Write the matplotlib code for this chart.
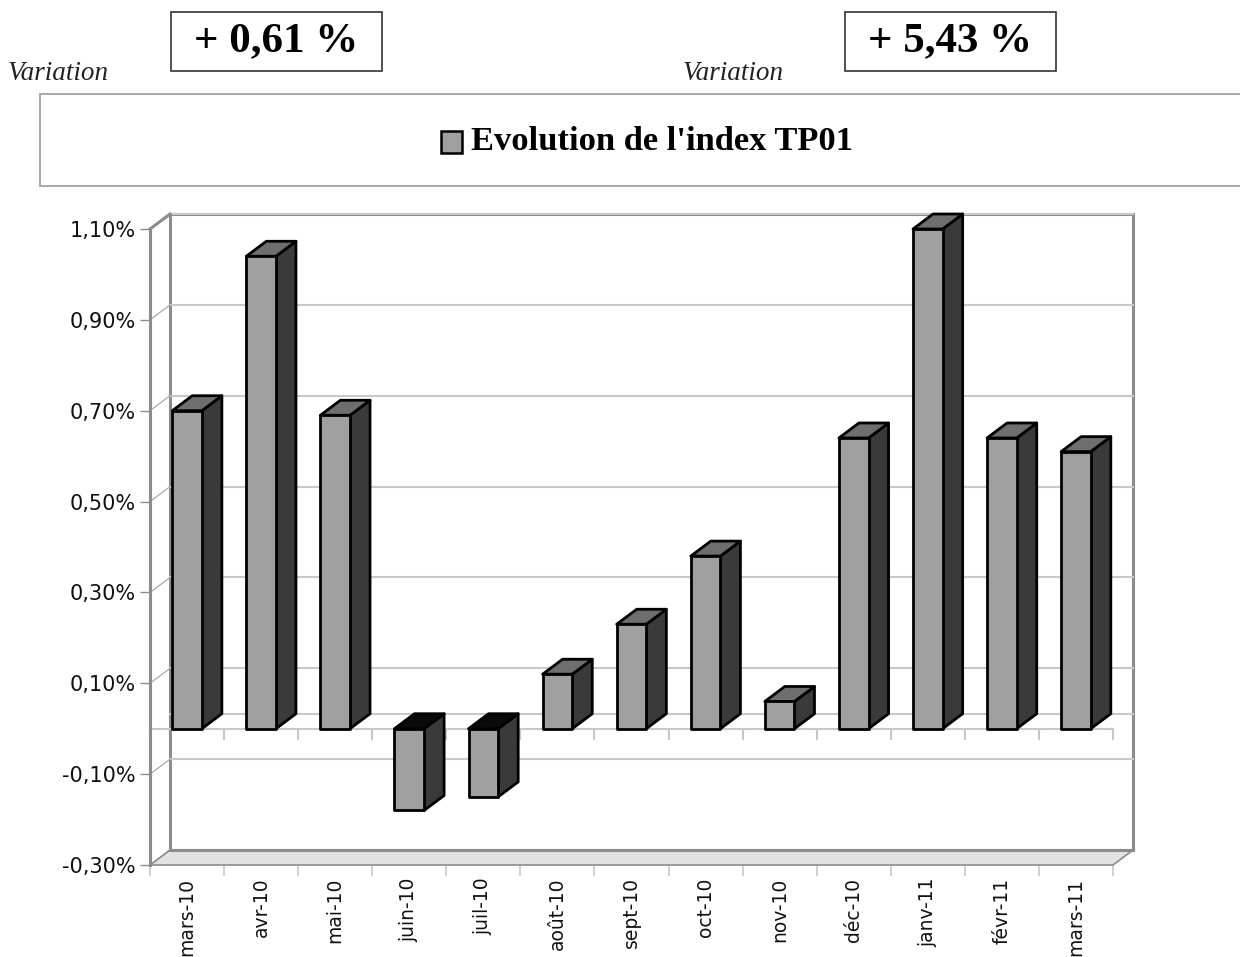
import matplotlib.pyplot as plt
from matplotlib.patches import Polygon, Rectangle

# monthly variation of the TP01 index (%)
months = ['mars-10', 'avr-10', 'mai-10', 'juin-10', 'juil-10', 'août-10', 'sept-10',
          'oct-10', 'nov-10', 'déc-10', 'janv-11', 'févr-11', 'mars-11']
variation = [0.70, 1.04, 0.69, -0.18, -0.15, 0.12, 0.23, 0.38, 0.06, 0.64, 1.10, 0.64, 0.61]

yticks = [-0.30, -0.10, 0.10, 0.30, 0.50, 0.70, 0.90, 1.10]
ytick_labels = ['-0,30%', '-0,10%', '0,10%', '0,30%', '0,50%', '0,70%', '0,90%', '1,10%']

month_var = '+ 0,61 %'
year_var = '+ 5,43 %'
legend_label = "Evolution de l'index TP01"

W, H = 1240, 957
fig = plt.figure(figsize=(W / 100, H / 100), dpi=100)


def fx(x):
    return x / W


def fy(y):
    return 1 - y / H


ax = fig.add_axes([fx(150), fy(865), 963 / W, 636 / H])
n = len(months)
ax.set_xlim(-0.5, n - 0.5)
ax.set_ylim(-0.30, 1.10)
for s in ax.spines.values():
    s.set_visible(False)

# depth of the 3d effect, in data units
DX = 20 / 74
DY = 15 / 455
x0, x1 = -0.5, n - 0.5
y0, y1 = -0.30, 1.10
frame = '#8c8c8c'
grid = '#c8c8c8'

# back wall + floor
ax.add_patch(Polygon([(x0 + DX, y0 + DY), (x1 + DX, y0 + DY), (x1 + DX, y1 + DY), (x0 + DX, y1 + DY)],
                     closed=True, facecolor='white', edgecolor=frame, lw=2.2, clip_on=False, zorder=1))
ax.add_patch(Polygon([(x0, y0), (x1, y0), (x1 + DX, y0 + DY), (x0 + DX, y0 + DY)],
                     closed=True, facecolor='#e2e2e2', edgecolor=frame, lw=1.2, clip_on=False, zorder=2))
ax.plot([x0 + DX, x1 + DX], [y0 + DY, y0 + DY], color=frame, lw=2.2, clip_on=False, zorder=2)

# gridlines on back wall and side wall
for v in yticks[1:]:
    ax.plot([x0 + DX, x1 + DX], [v + DY, v + DY], color=grid, lw=1.5, clip_on=False, zorder=1.5)
for v in yticks:
    ax.plot([x0, x0 + DX], [v, v + DY], color='#a0a0a0', lw=0.8, clip_on=False, zorder=1.5)
ax.plot([x0 + DX, x1 + DX], [DY, DY], color=grid, lw=1.5, clip_on=False, zorder=1.5)

# zero plane front edge with its ticks
ax.plot([x0, x1], [0, 0], color=grid, lw=1.5, clip_on=False, zorder=2)
for b in range(1, n + 1):
    ax.plot([b - 0.5, b - 0.5], [0, -0.022], color=grid, lw=1.5, clip_on=False, zorder=2)

# left front edge
ax.plot([x0, x0], [y0, y1], color=frame, lw=2.2, clip_on=False, zorder=3)
ax.plot([x0, x0 + DX], [y1, y1 + DY], color=frame, lw=2.2, clip_on=False, zorder=3)

# bars
bw = 0.4
for i, v in enumerate(variation):
    l, r = i - bw / 2, i + bw / 2
    lo, hi = min(v, 0), max(v, 0)
    top_col = '#6e6e6e' if v >= 0 else '#0a0a0a'
    ax.add_patch(Polygon([(r, lo), (r, hi), (r + DX, hi + DY), (r + DX, lo + DY)], closed=True,
                         facecolor='#3a3a3a', edgecolor='black', lw=2, joinstyle='round', zorder=5))
    ax.add_patch(Polygon([(l, hi), (r, hi), (r + DX, hi + DY), (l + DX, hi + DY)], closed=True,
                         facecolor=top_col, edgecolor='black', lw=2, joinstyle='round', zorder=5))
    ax.add_patch(Rectangle((l, lo), bw, hi - lo, facecolor='#a0a0a0', edgecolor='black',
                           lw=2, joinstyle='round', zorder=6))
for p in ax.patches:
    p.set_clip_on(False)

# axes ticks
ax.set_yticks(yticks)
ax.set_yticklabels(ytick_labels)
ax.tick_params(axis='y', length=7, width=1, color=frame, labelsize=15, pad=3, labelcolor='#111111')
ax.set_xticks(range(n))
ax.set_xticklabels(months, rotation=90, va='top', ha='center')
ax.set_xticks([b - 0.5 for b in range(n + 1)], minor=True)
ax.tick_params(axis='x', which='major', length=0, labelsize=13.5, pad=9, labelcolor='#111111')
ax.tick_params(axis='x', which='minor', length=8, width=1.2, color=grid)
for lab in ax.get_xticklabels() + ax.get_yticklabels():
    lab.set_family('DejaVu Sans')

# legend box
fig.patches.append(Rectangle((fx(40), fy(186)), fx(1260 - 40), fy(94) - fy(186), transform=fig.transFigure,
                             facecolor='white', edgecolor='#999999', lw=1.2, zorder=0))
fig.patches.append(Rectangle((fx(441), fy(153)), fx(21), fy(131) - fy(153), transform=fig.transFigure,
                             facecolor='#a0a0a0', edgecolor='black', lw=1.8, zorder=2))
fig.text(fx(471), fy(142), legend_label, family='Liberation Serif', weight='bold',
         fontsize=24.8, va='center', ha='left')

# variation boxes
for bx, by, bw_, bh, label, vx in [(171, 12, 211, 59, month_var, 8), (845, 12, 211, 59, year_var, 683)]:
    fig.patches.append(Rectangle((fx(bx), fy(by + bh)), fx(bw_), fy(by) - fy(by + bh),
                                 transform=fig.transFigure, facecolor='white', edgecolor='#333333', lw=1.2))
    fig.text(fx(bx + bw_ / 2), fy(by + bh / 2), label, family='Liberation Serif', weight='bold',
             fontsize=31, va='center', ha='center')
    fig.text(fx(vx), fy(73), 'Variation', family='Liberation Serif', style='italic',
             fontsize=19.5, va='center', ha='left', color='#222222')

fig.savefig('out.png', dpi=100)
